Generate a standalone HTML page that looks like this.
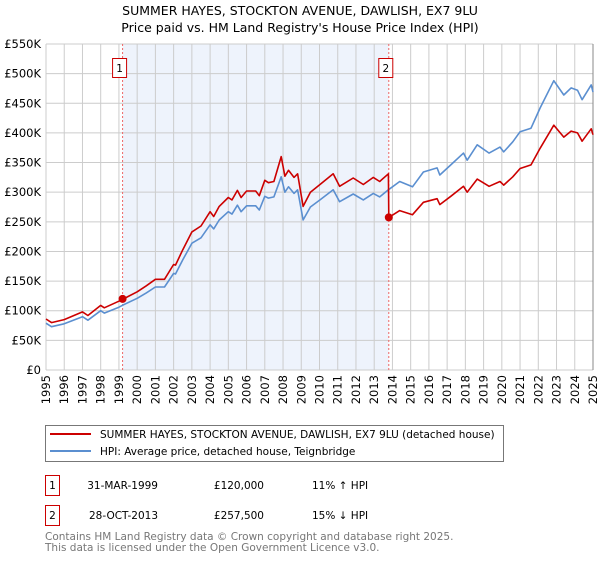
<!DOCTYPE html>
<html><head><meta charset="utf-8"><style>
body{margin:0;background:#fff;font-family:"DejaVu Sans","Liberation Sans",sans-serif;}
svg text{font-family:"DejaVu Sans","Liberation Sans",sans-serif;}
</style></head><body>
<svg id="chart" width="600" height="560" viewBox="0 0 600 560" xmlns="http://www.w3.org/2000/svg">
<text x="300" y="15" text-anchor="middle" font-size="12.5">SUMMER HAYES, STOCKTON AVENUE, DAWLISH, EX7 9LU</text>
<text x="300" y="32" text-anchor="middle" font-size="12.5">Price paid vs. HM Land Registry's House Price Index (HPI)</text>
<g id="plot"></g>
<g>
<rect x="45.5" y="425.5" width="458" height="36" fill="#fff" stroke="#777"/>
<line x1="50" y1="434" x2="91" y2="434" stroke="#cc0000" stroke-width="2"/>
<text x="100" y="438" font-size="10.5">SUMMER HAYES, STOCKTON AVENUE, DAWLISH, EX7 9LU (detached house)</text>
<line x1="50" y1="451" x2="91" y2="451" stroke="#5b8fd0" stroke-width="2"/>
<text x="100" y="455" font-size="10.5">HPI: Average price, detached house, Teignbridge</text>
</g>
<g font-size="10.5">
<rect x="45.5" y="475.5" width="14" height="20" fill="#fff" stroke="#cc0000"/>
<text x="52.5" y="489" text-anchor="middle">1</text>
<text x="158" y="489" text-anchor="end">31-MAR-1999</text>
<text x="264" y="489" text-anchor="end">£120,000</text>
<text x="312" y="489">11% ↑ HPI</text>
<rect x="45.5" y="505.5" width="14" height="20" fill="#fff" stroke="#cc0000"/>
<text x="52.5" y="519" text-anchor="middle">2</text>
<text x="158" y="519" text-anchor="end">28-OCT-2013</text>
<text x="264" y="519" text-anchor="end">£257,500</text>
<text x="312" y="519">15% ↓ HPI</text>
</g>
<text x="45" y="540" font-size="10.5" fill="#777">Contains HM Land Registry data © Crown copyright and database right 2025.</text>
<text x="45" y="551" font-size="10.5" fill="#777">This data is licensed under the Open Government Licence v3.0.</text>
</svg>
<script>
const hpiYears=[1995,1995.3,1996,1997,1997.3,1998,1998.2,1999,1999.25,2000,2000.5,2001,2001.5,2002,2002.1,2002.5,2003,2003.5,2004,2004.2,2004.5,2005,2005.2,2005.5,2005.7,2006,2006.5,2006.7,2007,2007.2,2007.5,2007.9,2008.1,2008.3,2008.6,2008.8,2008.93,2009.1,2009.5,2010.03,2010.75,2011.1,2011.85,2012.4,2012.95,2013.3,2013.78,2014.4,2015.1,2015.7,2016.45,2016.6,2017.2,2017.9,2018.1,2018.65,2019.3,2019.9,2020.1,2020.6,2021.0,2021.6,2022.1,2022.85,2023.4,2023.8,2024.15,2024.4,2024.9,2025];
const hpiValues=[79,73,78,90,84,100,96,106,110,121,130,140,140,163,162,186,214,223,245,238,253,267,263,278,267,277,277,270,293,290,292,326,300,309,298,304,282,253,275,287,304,284,297,287,298,292,304,318,309,334,341,329,346,366,354,380,366,376,368,385,402,408,442,488,464,476,472,456,481,469];
const redYears=[1995,1995.3,1996,1997,1997.3,1998,1998.2,1999,1999.25,2000,2000.5,2001,2001.5,2002,2002.1,2002.5,2003,2003.5,2004,2004.2,2004.5,2005,2005.2,2005.5,2005.7,2006,2006.5,2006.7,2007,2007.2,2007.5,2007.9,2008.1,2008.3,2008.6,2008.8,2008.93,2009.1,2009.5,2010.03,2010.75,2011.1,2011.85,2012.4,2012.95,2013.3,2013.78,2013.8,2014.4,2015.1,2015.7,2016.45,2016.6,2017.2,2017.9,2018.1,2018.65,2019.3,2019.9,2020.1,2020.6,2021.0,2021.6,2022.1,2022.85,2023.4,2023.8,2024.15,2024.4,2024.9,2025];
const redValues=[86,80,85,98,92,109,105,116,120,132,142,153,153,178,177,203,233,243,267,259,276,291,287,303,291,302,302,294,320,316,318,360,327,337,325,331,307,276,300,313,331,310,324,313,325,318,331,257.5,269,262,283,289,279,293,310,300,322,310,318,312,326,340,346,374,413,393,403,400,386,407,397];
const saleYears=[1999.2,2013.8];
const saleValues=[120,257.5];
const saleLabels=["1","2"];
const yTicks=[0,50,100,150,200,250,300,350,400,450,500,550];
const yTickLabels=["£0","£50K","£100K","£150K","£200K","£250K","£300K","£350K","£400K","£450K","£500K","£550K"];
const xTicks=[1995,1996,1997,1998,1999,2000,2001,2002,2003,2004,2005,2006,2007,2008,2009,2010,2011,2012,2013,2014,2015,2016,2017,2018,2019,2020,2021,2022,2023,2024,2025];

const NS="http://www.w3.org/2000/svg";
const L=46,R=593,T=44,B=370;
const x=v=>L+(v-1995)/(2025-1995)*(R-L);
const y=v=>B-v/550*(B-T);
const g=document.getElementById('plot');
function mk(tag,attrs){const e=document.createElementNS(NS,tag);for(const k in attrs)e.setAttribute(k,attrs[k]);g.appendChild(e);return e;}
let bg=mk('rect',{x:L,y:T,width:R-L,height:B-T,fill:'#fff'});


let sh=mk('rect',{x:x(saleYears[0]),y:T,width:x(saleYears[1])-x(saleYears[0]),height:B-T,fill:'#eef3fc'});


yTicks.forEach((t,i)=>{
 let ln=mk('line',{x1:L,x2:R,y1:y(t),y2:y(t),stroke:'#ccc','stroke-width':1});
 
 
 let tx=mk('text',{x:L-5,y:y(t)+4,'text-anchor':'end','font-size':11.5});
 
 
 tx.textContent=yTickLabels[i];
});
xTicks.forEach(t=>{
 let ln=mk('line',{x1:x(t),x2:x(t),y1:T,y2:B,stroke:'#ccc','stroke-width':1});
 
 
 let tx=mk('text',{transform:`translate(${x(t)+4},${B+5}) rotate(-90)`,'text-anchor':'end','font-size':11.5});
 
 
 tx.textContent=t;
});
let ax=mk('line',{x1:R,x2:R,y1:T,y2:B,stroke:'#888','stroke-width':1});


saleYears.forEach((s,i)=>{
 let ln=mk('line',{x1:x(s),x2:x(s),y1:T,y2:B,stroke:'#ee6666','stroke-width':1,'stroke-dasharray':'2,2'});
 
 
});
function path(xs,vs,col,name){
 let d=xs.map((v,i)=>(i?'L':'M')+x(v).toFixed(1)+','+y(vs[i]).toFixed(1)).join('');
 let p=mk('path',{d:d,fill:'none',stroke:col,'stroke-width':1.6,'stroke-linejoin':'round'});
 
 
}
path(hpiYears,hpiValues,'#5b8fd0','hpi-line');
path(redYears,redValues,'#cc0000','property-line');
saleYears.forEach((s,i)=>{
 let c=mk('circle',{cx:x(s),cy:y(saleValues[i]),r:4,fill:'#cc0000'});
 
 
 let bx=x(s)-3;
 let r=mk('rect',{x:bx-7,y:58.5,width:14,height:19,fill:'#fff',stroke:'#cc0000'});
 
 
 let t=mk('text',{x:bx,y:72,'text-anchor':'middle','font-size':10.5});
 
 
 t.textContent=saleLabels[i];
});
</script>
</body></html>
